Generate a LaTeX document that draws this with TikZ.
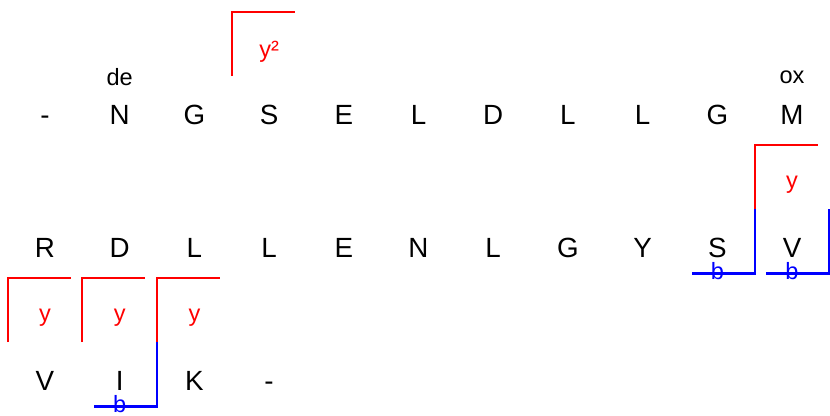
\documentclass[tikz,border=0pt]{standalone}
\usepackage{fontspec}
\setmainfont{Liberation Sans}
\usetikzlibrary{calc}
\definecolor{IonRed}{RGB}{255,0,0}
\definecolor{IonBlue}{RGB}{0,0,255}
\tikzset{
  residue/.style={anchor=base,inner sep=0pt,font=\fontsize{15.8}{18}\selectfont},
  modlabel/.style={inner sep=0pt,font=\fontsize{13.4}{15}\selectfont},
  ionlabel/.style={inner sep=0pt,font=\fontsize{13.4}{15}\selectfont},
  yline/.style={IonRed,line width=1.3pt},
  bline/.style={IonBlue,line width=1.3pt}
}
% y ion: cut on the left of residue #1
\newcommand{\yion}[2]{%
  \draw[yline] ([shift={(-0.747,0.96)}]#1.base) -- ([shift={(-0.747,2.24)}]#1.base)
    -- ([shift={(0.513,2.24)}]#1.base);
  \node[ionlabel,text=IonRed] at ([yshift=1.45cm]#1.base) {#2};}
% b ion: cut on the right of residue #1
\newcommand{\bion}[2]{%
  \draw[bline] ([shift={(0.747,0.96)}]#1.base) -- ([shift={(0.747,-0.33)}]#1.base)
    -- ([shift={(-0.513,-0.33)}]#1.base);
  \node[ionlabel,text=IonBlue] at ([yshift=-0.28cm]#1.base) {#2};}

\begin{document}
\begin{tikzpicture}
  \useasboundingbox (0,0) rectangle (16.6,-8.3);
  % sequence rows
  \foreach \l [count=\i from 0] in {-,N,G,S,E,L,D,L,L,G,M}
    \node[residue] (a\i) at (0.90+1.494*\i,-2.48) {\l};
  \foreach \l [count=\i from 0] in {R,D,L,L,E,N,L,G,Y,S,V}
    \node[residue] (b\i) at (0.90+1.494*\i,-5.14) {\l};
  \foreach \l [count=\i from 0] in {V,I,K,-}
    \node[residue] (c\i) at (0.90+1.494*\i,-7.80) {\l};
  % modifications
  \node[modlabel] (mod1) at ([yshift=0.94cm]a1.base) {de};
  \node[modlabel] (mod2) at ([yshift=0.94cm]a10.base) {ox};
  % fragment ions
  \yion{a3}{y²}
  \yion{b10}{y}
  \bion{b9}{b}
  \bion{b10}{b}
  \yion{c0}{y}
  \yion{c1}{y}
  \yion{c2}{y}
  \bion{c1}{b}
\end{tikzpicture}
\end{document}
